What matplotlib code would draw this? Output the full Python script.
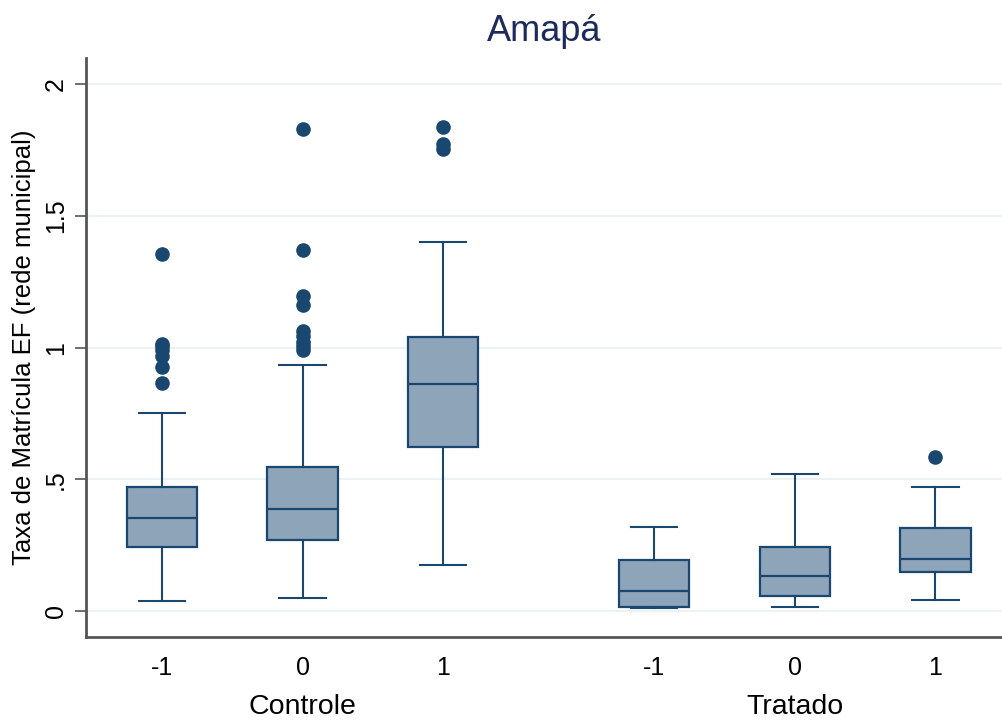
import matplotlib
matplotlib.use("Agg")
from matplotlib import pyplot as plt

plt.rcParams['font.family'] = ['Liberation Sans', 'DejaVu Sans']

# dados (Controle / Tratado, período -1, 0, 1)
grupos = ["Controle", "Tratado"]
periodos = ["-1", "0", "1", "-1", "0", "1"]
whis_lo = [0.038, 0.049, 0.175, 0.011, 0.015, 0.042]
q1 = [0.243, 0.270, 0.624, 0.015, 0.057, 0.149]
mediana = [0.354, 0.388, 0.863, 0.076, 0.133, 0.198]
q3 = [0.471, 0.548, 1.042, 0.194, 0.243, 0.316]
whis_hi = [0.753, 0.935, 1.403, 0.319, 0.521, 0.471]
outliers = [
    [0.867, 0.928, 0.97, 0.99, 1.005, 1.015, 1.357],
    [0.99, 1.005, 1.02, 1.045, 1.065, 1.16, 1.195, 1.369, 1.829],
    [1.753, 1.772, 1.837],
    [],
    [],
    [0.586],
]
posicoes = [1, 2, 3, 4.5, 5.5, 6.5]

azul = "#1a476f"
preenchimento = "#8da4b9"

stats = []
for i in range(len(posicoes)):
    stats.append({"whislo": whis_lo[i], "q1": q1[i], "med": mediana[i],
                  "q3": q3[i], "whishi": whis_hi[i], "fliers": outliers[i]})

fig = plt.figure(figsize=(10.03, 7.25), dpi=100)
ax = fig.add_axes([0.0857, 0.1214, 0.9143, 0.7986])

ax.bxp(stats, positions=posicoes, widths=0.5, patch_artist=True,
       boxprops=dict(facecolor=preenchimento, edgecolor=azul, linewidth=1.6),
       medianprops=dict(color=azul, linewidth=1.6),
       whiskerprops=dict(color=azul, linewidth=1.5),
       capprops=dict(color=azul, linewidth=1.5),
       capwidths=0.33,
       flierprops=dict(marker='o', markerfacecolor=azul, markeredgecolor=azul,
                       markersize=9.5))

ax.set_xlim(0.46, 6.98)
ax.set_ylim(-0.099, 2.1)
ax.set_yticks([0, 0.5, 1, 1.5, 2])
ax.set_yticklabels(["0", ".5", "1", "1.5", "2"], rotation=90, va='center')
ax.set_xticks(posicoes)
ax.set_xticklabels(periodos)
ax.tick_params(axis='both', labelsize=18, length=8, width=1.2, color="#555555")
ax.tick_params(axis='x', length=0, pad=14)
ax.tick_params(axis='y', pad=5)

ax.grid(axis='y', color="#e8f0f2", linewidth=1.2)
ax.set_axisbelow(True)
for s in ['top', 'right']:
    ax.spines[s].set_visible(False)
for s in ['left', 'bottom']:
    ax.spines[s].set_color("#555555")
    ax.spines[s].set_linewidth(2)

ax.set_ylabel("Taxa de Matrícula EF (rede municipal)", fontsize=18.5, labelpad=6)
ax.set_title("Amapá", fontsize=26, color="#1c2b5a", pad=12)

# rótulos dos grupos
ax.text(2, -0.365, grupos[0], ha='center', va='center', fontsize=20.5)
ax.text(5.5, -0.365, grupos[1], ha='center', va='center', fontsize=20.5)

fig.savefig("out.png", dpi=100)
